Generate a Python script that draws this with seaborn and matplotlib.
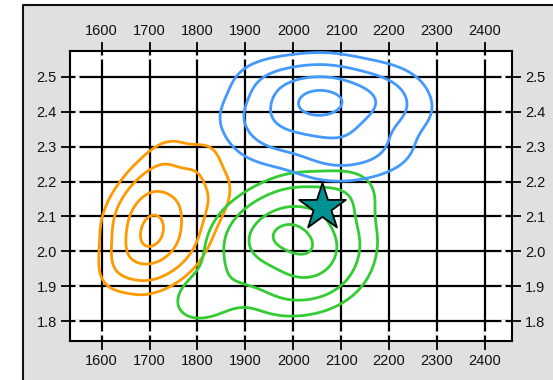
import matplotlib
matplotlib.use("Agg")
import matplotlib.pyplot as plt
import matplotlib.patches as mpatches
from matplotlib.transforms import blended_transform_factory, ScaledTranslation
import seaborn as sns
import pandas as pd

# Sample measurements for the three groups
orange_x = [1700, 1710,
            1712, 1737, 1728, 1704, 1684, 1691,
            1722, 1763, 1775, 1746, 1705, 1665, 1668, 1690,
            1730, 1800, 1828, 1785, 1751, 1705, 1644, 1648, 1682]
orange_y = [2.050, 2.066,
            2.118, 2.099, 2.046, 2.026, 2.030, 2.083,
            2.160, 2.158, 2.115, 2.024, 1.996, 2.006, 2.087, 2.135,
            2.247, 2.235, 2.150, 2.037, 1.989, 1.965, 1.978, 2.103, 2.176]

green_x = [1982, 2028,
           2001, 2039, 2034, 2001, 1953, 1974,
           1997, 2074, 2072, 2053, 1997, 1902, 1935, 1950,
           1990, 2095, 2090, 2080, 2055, 1990, 1815, 1896, 1918]
green_y = [2.063, 2.014,
           2.073, 2.055, 2.007, 1.993, 1.991, 2.045,
           2.109, 2.118, 2.024, 1.965, 1.947, 1.944, 2.031, 2.074,
           2.142, 2.150, 2.012, 1.940, 1.910, 1.898, 1.870, 2.024, 2.088]

blue_x = [2040, 2072,
          2059, 2102, 2093, 2059, 2021, 2017,
          2064, 2144, 2159, 2131, 2064, 1988, 1970, 1991,
          2069, 2189, 2212, 2172, 2121, 2069, 1953, 1926, 1958]
blue_y = [2.425, 2.432,
          2.453, 2.434, 2.390, 2.379, 2.393, 2.433,
          2.474, 2.456, 2.413, 2.346, 2.325, 2.353, 2.400, 2.464,
          2.494, 2.468, 2.403, 2.299, 2.284, 2.269, 2.311, 2.382, 2.480]

star_x = [2060]
star_y = [2.128]

x_ticks = [1600, 1700, 1800, 1900, 2000, 2100, 2200, 2300, 2400]
y_ticks = [1.8, 1.9, 2.0, 2.1, 2.2, 2.3, 2.4, 2.5]

groups = [
    (orange_x, orange_y, "#ff9900"),
    (green_x, green_y, "#33cc33"),
    (blue_x, blue_y, "#4499ff"),
]

sns.set_style("white")
plt.rcParams["font.family"] = ["Liberation Sans", "DejaVu Sans"]

DPI = 100
fig = plt.figure(figsize=(5.53, 3.80), dpi=DPI)
fig.patch.set_facecolor("white")
# grey panel behind the plot with a dark frame on its left and top
fig.patches.append(mpatches.Rectangle((23 / 553, -0.05), 1.0, 1 - 5 / 380 + 0.05,
                                      transform=fig.transFigure, facecolor="#e0e0e0",
                                      edgecolor="none", zorder=-2))
fig.lines.append(plt.Line2D([23 / 553, 23 / 553, 1.0], [0.0, 1 - 5 / 380, 1 - 5 / 380],
                            transform=fig.transFigure, color="#111111", lw=1.5, zorder=-1))

ax = fig.add_axes([70 / 553, 1 - 341 / 380, (511.7 - 70) / 553, (341 - 51) / 380])
ax.set_zorder(1)
ax.set_facecolor("white")

levels = [0.05, 0.2, 0.55, 0.9]
for gx, gy, col in groups:
    df = pd.DataFrame({"x": gx, "y": gy})
    sns.kdeplot(data=df, x="x", y="y", levels=levels, color=col, bw_adjust=1.25,
                linewidths=2.0, ax=ax, zorder=3)

sns.scatterplot(x=star_x, y=star_y, marker="*", s=1250, color="#009292",
                edgecolor="black", linewidth=1.3, ax=ax, zorder=5)

ax.set_xlim(1534, 2456)
ax.set_ylim(1.743, 2.574)
ax.set_xticks(x_ticks)
ax.set_yticks(y_ticks)
ax.set_xticklabels([str(t) for t in x_ticks])
ax.set_yticklabels([f"{t:.1f}" for t in y_ticks])
ax.set_xlabel("")
ax.set_ylabel("")

ax.grid(True, color="black", linewidth=1.6)
ax.set_axisbelow(True)
for s in ax.spines.values():
    s.set_visible(True)
    s.set_color("black")
    s.set_linewidth(1.5)

ax.tick_params(axis="both", which="major", direction="out", length=6.5, width=1.3,
               color="black", labelsize=10.5, labelcolor="#111111",
               top=True, right=True, labeltop=True, labelright=True,
               bottom=True, left=True, labelbottom=True, labelleft=True, pad=3)

# small white breaks in the grid lines just inside the frame
xt = blended_transform_factory(ax.transData, ax.transAxes)
yt = blended_transform_factory(ax.transAxes, ax.transData)
breaks = [
    (x_ticks, [1.0] * len(x_ticks), xt + ScaledTranslation(0, -5.5 / DPI, fig.dpi_scale_trans), "|"),
    (x_ticks, [0.0] * len(x_ticks), xt + ScaledTranslation(0, 8.5 / DPI, fig.dpi_scale_trans), "|"),
    ([0.0] * len(y_ticks), y_ticks, yt + ScaledTranslation(6.5 / DPI, 0, fig.dpi_scale_trans), "_"),
    ([1.0] * len(y_ticks), y_ticks, yt + ScaledTranslation(-8.5 / DPI, 0, fig.dpi_scale_trans), "_"),
]
for bx, by, tr, mk in breaks:
    ax.plot(bx, by, transform=tr, linestyle="none", marker=mk, markersize=2.3,
            markeredgewidth=2.4, color="white", zorder=1, clip_on=False)

fig.savefig("out.png", dpi=DPI, facecolor=fig.get_facecolor())
